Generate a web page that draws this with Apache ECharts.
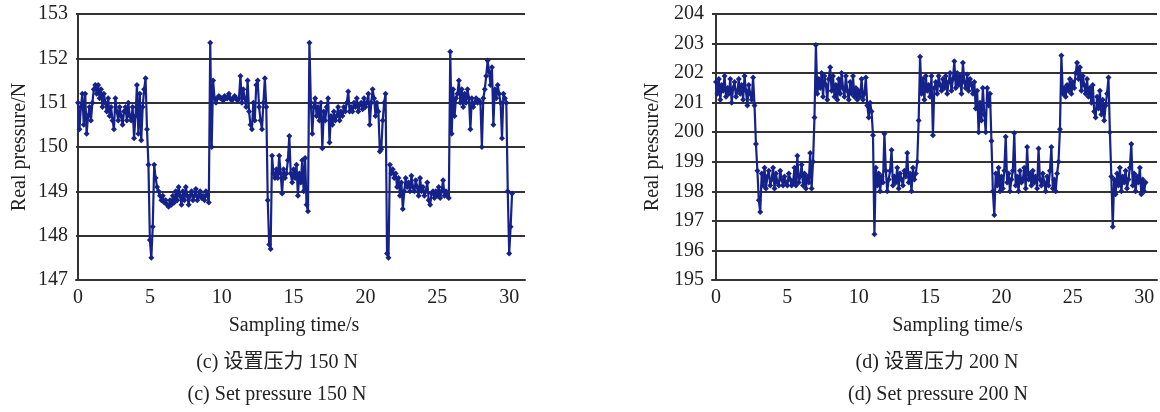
<!DOCTYPE html>
<html>
<head>
<meta charset="utf-8">
<script src="https://cdn.jsdelivr.net/npm/echarts@6/dist/echarts.min.js"></script>
<style>
  html, body { margin: 0; padding: 0; background: #fff; }
  #chart { width: 1160px; height: 412px; }
</style>
</head>
<body>
<div id="chart"></div>
<script>
// 采样间隔 (s)
const dt = 0.1;

// (c) 设置压力 150 N —— 实测压力
const pressure150 = [
  151.0, 150.4, 150.9, 151.2, 150.5, 151.2, 150.3, 150.7, 150.9, 150.6,
  151.0, 151.3, 151.4, 151.2, 151.4, 151.1, 151.3, 150.9, 151.2, 151.0,
  150.8, 151.1, 150.7, 150.9, 150.6, 150.4, 151.1, 150.8, 150.6, 150.9,
  150.7, 150.5, 150.8, 150.9, 150.6, 151.0, 150.7, 150.6, 150.9, 150.2,
  150.7, 151.4, 150.3, 151.2, 150.15, 150.9, 151.3, 151.55, 150.4, 149.6,
  147.9, 147.5, 148.2, 149.6, 149.3, 149.1, 149.0, 148.9, 148.8, 148.9,
  148.75, 148.8, 148.7, 148.65, 148.8, 148.7, 148.9, 148.75, 149.0, 148.8,
  149.1, 148.9, 148.7, 149.0, 148.8, 149.1, 148.9, 148.7, 148.9, 149.0,
  148.8, 148.9, 149.05, 148.8, 148.9, 149.0, 148.85, 148.9, 148.8, 149.0,
  148.9, 148.75, 152.35, 150.0, 151.5, 151.1, 151.0, 151.1, 151.15, 151.1,
  151.1, 151.05, 151.15, 151.1, 151.1, 151.2, 151.1, 151.05, 151.1, 151.15,
  151.1, 151.05, 151.1, 151.6, 151.0, 151.3, 151.1, 150.9, 151.5, 150.8,
  150.5, 150.4, 151.0, 150.6, 151.4, 151.5, 150.9, 150.6, 150.4, 151.0,
  151.55, 150.9, 148.8, 147.8, 147.7, 149.8, 149.4, 149.3, 149.5, 149.3,
  149.8, 149.4, 148.95, 149.5, 149.3, 149.4, 149.7, 150.25, 149.4, 149.2,
  149.5, 149.3, 149.6, 148.9, 149.4, 149.2, 149.7, 149.0, 149.75, 148.7,
  148.55, 152.35, 151.0, 150.3, 150.9, 151.1, 150.7, 150.9, 150.6, 151.0,
  149.97, 150.8, 150.6, 150.9, 151.1, 150.1, 150.7, 150.5, 150.8, 150.6,
  150.7, 150.9, 150.6, 150.8, 150.7, 150.9, 150.8, 151.0, 151.25, 150.8,
  150.9, 150.8, 151.0, 150.9, 151.1, 150.8, 150.95, 151.0, 150.85, 151.1,
  150.9, 151.0, 151.2, 150.5, 151.0, 151.3, 151.1, 150.7, 151.0, 150.8,
  149.9, 149.95, 150.6, 151.0, 151.2, 147.6, 147.5, 149.6, 149.4, 149.5,
  149.3, 149.4, 149.1, 149.3, 148.9, 149.2, 148.6, 149.0, 149.3, 149.1,
  149.2, 149.0, 149.35, 149.1, 149.0, 149.25, 149.1, 148.9, 149.3, 149.0,
  149.1, 148.9, 149.0, 149.2, 148.8, 148.7, 148.95, 149.0, 148.85, 149.0,
  148.9, 149.1, 148.85, 149.0, 149.25, 148.9, 149.0, 148.9, 148.85, 152.15,
  150.3, 151.3, 150.7, 151.1, 151.2, 151.5, 151.0, 151.3, 150.9, 151.2,
  151.0, 151.3, 151.1, 150.4, 151.1, 150.9, 151.0, 151.1, 151.0, 151.05,
  151.0, 150.0, 151.1, 151.3, 151.6, 151.95, 151.7, 151.4, 151.8, 150.5,
  151.3, 151.1, 151.4, 151.2, 151.0, 150.2, 151.2, 151.1, 151.0, 149.0,
  147.6, 148.2, 148.95
];

// (d) 设置压力 200 N —— 实测压力
const pressure200 = [
  201.7, 201.3, 201.8, 201.1, 201.6, 201.4, 201.9, 201.2, 201.5, 201.3,
  201.8, 201.0, 201.5, 201.7, 201.2, 201.4, 201.8, 201.3, 201.6, 201.1,
  201.9, 201.4, 200.9, 201.6, 201.3, 201.1, 201.85, 200.9, 199.6, 198.7,
  197.7, 197.3, 198.6, 198.2, 198.8, 198.1, 198.5, 198.7, 198.2, 198.4,
  198.8, 198.1, 198.6, 198.3, 198.2, 198.7, 198.4, 198.2, 198.5, 198.3,
  198.2, 198.6, 198.4, 198.2, 198.3, 198.8, 198.2, 199.2, 198.3, 198.5,
  198.9, 198.2, 198.6, 198.1, 198.5, 198.3, 199.3, 198.1, 199.0, 200.5,
  202.95, 201.3, 201.8, 201.5, 202.0, 201.2, 201.9, 201.6, 201.1, 201.8,
  202.2, 201.4, 201.9, 201.2, 201.6, 201.1, 201.8, 201.3, 202.0, 201.5,
  201.2, 201.9, 201.4, 201.1, 201.7, 201.3, 201.9, 201.2, 201.5, 201.1,
  201.4, 201.2, 201.8, 201.1, 201.3, 201.85, 200.9, 200.5, 201.0, 200.7,
  199.9, 196.55, 198.8, 198.2, 198.6, 198.0, 198.5, 198.3, 199.95, 198.7,
  198.0, 198.4, 198.7, 199.4, 198.2, 198.5, 198.3, 198.8, 198.1, 198.6,
  198.4, 198.2, 198.7, 198.5, 199.3, 198.3, 198.6, 198.0, 198.8, 198.4,
  198.6, 199.0, 200.4, 202.55, 201.3, 201.8, 201.1, 201.9, 201.4, 201.6,
  201.2, 201.9, 199.9, 201.5, 201.7, 201.3, 201.9, 201.6, 201.4, 201.8,
  201.5, 201.9, 201.3, 201.7, 202.0, 201.4, 201.8, 202.4, 201.5, 202.0,
  201.6, 201.9, 201.3, 202.35, 201.7, 201.5, 201.95, 201.4, 201.8, 201.6,
  201.3, 201.7, 200.8, 201.4, 200.0, 201.0, 200.4, 201.5, 200.6, 200.0,
  201.5, 200.9, 201.3, 199.7, 198.0, 197.2, 198.6, 198.2, 198.8, 198.0,
  198.5, 198.1, 198.7, 199.85, 198.3, 198.6, 198.0, 198.4, 198.7, 199.97,
  198.2, 198.5, 198.0, 198.7, 198.3, 198.4, 198.8, 198.1, 199.5, 198.4,
  198.6, 198.2, 198.7, 198.3, 198.5, 198.1, 199.45, 198.4, 198.2, 198.6,
  198.3, 198.0, 198.5, 198.2, 198.7, 199.5, 198.1, 198.4, 198.0, 198.6,
  199.0, 200.1, 202.6, 201.3, 201.5, 201.2, 201.6, 201.4, 201.8, 201.3,
  201.7, 201.5, 202.0, 202.35, 201.8, 202.2, 201.4, 201.9, 201.6, 201.3,
  201.8, 201.2, 201.5, 201.0, 201.6, 200.7, 200.5, 201.2, 200.8, 201.4,
  200.6, 201.1, 200.4, 200.9, 201.3, 201.85, 200.0, 198.5, 196.8, 198.4,
  197.9, 198.6, 198.2, 198.8, 198.0, 198.5, 198.3, 198.7, 198.1, 198.4,
  198.8, 199.6, 198.2, 198.6, 198.0, 198.5, 198.3, 198.8, 197.9, 198.4,
  198.0, 198.3
];

// 坐标轴范围
const yRange150 = [147, 153];
const yRange200 = [195, 204];
const xTicks = [0, 5, 10, 15, 20, 25, 30];

const captions = [
  ['(c) 设置压力 150 N', '(c) Set pressure 150 N'],
  ['(d) 设置压力 200 N', '(d) Set pressure 200 N']
];

const lineColor = '#15228a';
const gridColor = '#333';
const fontFamily = '"Liberation Serif", "Noto Sans CJK SC", serif';
const textColor = '#222';

const toPoints = (vals) => vals.map((v, i) => [+(i * dt).toFixed(2), v]);

const xAxisBase = (gridIndex, min, max, pad) => ({
    gridIndex,
    type: 'value',
    min, max,
    splitNumber: 6,
    name: 'Sampling time/s',
    nameLocation: 'middle',
    nameGap: 36,
    nameTextStyle: { fontFamily, fontSize: 20, color: textColor, padding: pad },
    axisLine: { show: true, lineStyle: { color: gridColor, width: 2 } },
    axisTick: { show: false },
    splitLine: { show: false },
    axisLabel: {
        fontFamily, fontSize: 20, color: textColor, margin: 8,
        formatter: (v) => xTicks.includes(Math.round(v * 1000) / 1000) ? String(v) : ''
    }
});

const yAxisBase = (gridIndex, range, gap) => ({
    gridIndex,
    type: 'value',
    min: range[0], max: range[1],
    interval: 1,
    name: 'Real pressure/N',
    nameLocation: 'middle',
    nameGap: gap,
    nameTextStyle: { fontFamily, fontSize: 20, color: textColor },
    axisLine: { show: true, lineStyle: { color: gridColor, width: 2 } },
    axisTick: { show: false },
    splitLine: { show: true, lineStyle: { color: gridColor, width: 1.8 } },
    axisLabel: { fontFamily, fontSize: 20, color: textColor, margin: 8 }
});

const seriesBase = (idx, vals) => ({
    type: 'line',
    xAxisIndex: idx,
    yAxisIndex: idx,
    data: toPoints(vals),
    symbol: 'diamond',
    symbolSize: 6,
    showAllSymbol: true,
    lineStyle: { color: lineColor, width: 2.2 },
    itemStyle: { color: lineColor },
    z: 3
});

const captionText = (x, y, text) => ({
    type: 'text',
    x, y,
    style: {
        text,
        fill: textColor,
        font: '20px ' + fontFamily,
        textAlign: 'center',
        textVerticalAlign: 'middle'
    }
});

const myChart = echarts.init(document.getElementById('chart'), null, { renderer: 'canvas' });

const option = {
    animation: false,
    backgroundColor: '#fff',
    grid: [
        { left: 76, top: 14, width: 449, height: 266 },
        { left: 712, top: 14, width: 446, height: 266 }
    ],
    xAxis: [
        xAxisBase(0, -0.14, 31.1, [0, 13, 0, 0]),
        xAxisBase(1, -0.28, 30.9, [0, 0, 0, 46])
    ],
    yAxis: [
        yAxisBase(0, yRange150, 46),
        yAxisBase(1, yRange200, 49)
    ],
    series: [
        seriesBase(0, pressure150),
        seriesBase(1, pressure200)
    ],
    graphic: [
        captionText(277, 363, captions[0][0]),
        captionText(277, 395, captions[0][1]),
        captionText(937, 363, captions[1][0]),
        captionText(938, 395, captions[1][1])
    ]
};

option && myChart.setOption(option);
</script>
</body>
</html>
